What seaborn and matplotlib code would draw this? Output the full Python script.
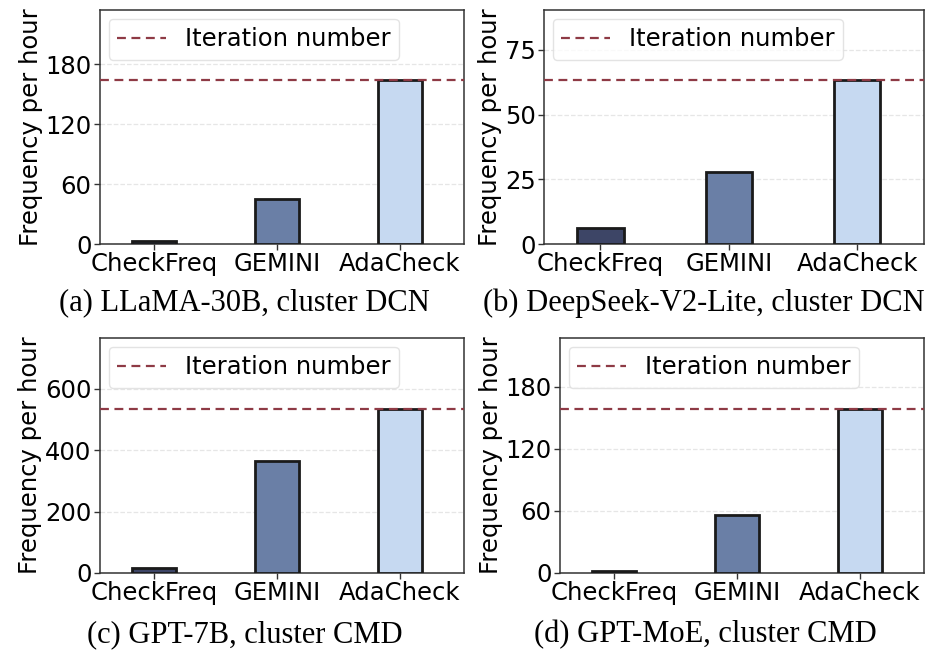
import matplotlib
matplotlib.use("Agg")
import matplotlib.pyplot as plt
import seaborn as sns
import pandas as pd

categories = ["CheckFreq", "GEMINI", "AdaCheck"]
llama_vals = [3, 45, 164]
deepseek_vals = [6.1, 28, 63.2]
gpt7b_vals = [16, 366, 535]
gptmoe_vals = [2, 56, 159]
iteration_numbers = [164, 63.2, 535, 159]
yticks_list = [[0, 60, 120, 180], [0, 25, 50, 75], [0, 200, 400, 600], [0, 60, 120, 180]]
captions = ["(a) LLaMA-30B, cluster DCN", "(b) DeepSeek-V2-Lite, cluster DCN",
            "(c) GPT-7B, cluster CMD", "(d) GPT-MoE, cluster CMD"]
colors = ["#3d4566", "#6a7fa6", "#c6d9f1"]

sns.set_style("white")
plt.rcParams['font.family'] = ['DejaVu Sans']
plt.rcParams['text.color'] = 'black'
plt.rcParams['xtick.color'] = 'black'
plt.rcParams['ytick.color'] = 'black'
plt.rcParams['axes.labelcolor'] = 'black'

W, H = 927, 652
fig = plt.figure(figsize=(W / 100, H / 100), dpi=100)

# axes boxes in pixels: left, right, top, bottom
boxes = [(100, 464, 10, 244), (544, 924, 10, 244), (100, 464, 338, 573), (560, 924, 338, 573)]
cap_pos = [(244, 303), (704, 303), (245, 635), (705, 635)]
series = [llama_vals, deepseek_vals, gpt7b_vals, gptmoe_vals]

for i in range(4):
    l, r, t, b = boxes[i]
    ax = fig.add_axes([l / W, 1 - b / H, (r - l) / W, (b - t) / H])
    df = pd.DataFrame({"method": categories, "freq": series[i]})
    sns.barplot(data=df, x="method", y="freq", hue="method", palette=colors, saturation=1,
                width=0.36, edgecolor="#1a1a1a", linewidth=2, ax=ax, legend=False, zorder=3)
    ax.axhline(iteration_numbers[i], color="#8e3a45", linestyle=(0, (4, 2.5)), linewidth=1.6,
               label="Iteration number", zorder=4)
    ax.set_ylim(0, iteration_numbers[i] * 1.43)
    ax.set_xlim(-0.44, 2.52)
    ax.set_yticks(yticks_list[i])
    ax.grid(axis="y", linestyle="--", color="#e6e6e6", linewidth=0.9, zorder=0)
    ax.set_axisbelow(True)
    ax.set_xlabel("")
    ax.set_ylabel("Frequency per hour", fontsize=17.5, labelpad=2)
    ax.tick_params(axis="both", labelsize=17.5, length=4, width=1, color="#333333",
                   direction="out", left=True, bottom=True, pad=2)
    for s in ax.spines.values():
        s.set_color("#333333")
        s.set_linewidth(1.1)
    leg = ax.legend(loc="upper left", fontsize=17.5, frameon=True, fancybox=True,
                    handlelength=2.0, borderaxespad=0.35, borderpad=0.35)
    leg.get_frame().set_edgecolor("#dddddd")
    fig.text(cap_pos[i][0] / W, 1 - cap_pos[i][1] / H, captions[i],
             family="Liberation Serif", fontsize=22, ha="center", va="center")

fig.savefig("out.png", dpi=100)
